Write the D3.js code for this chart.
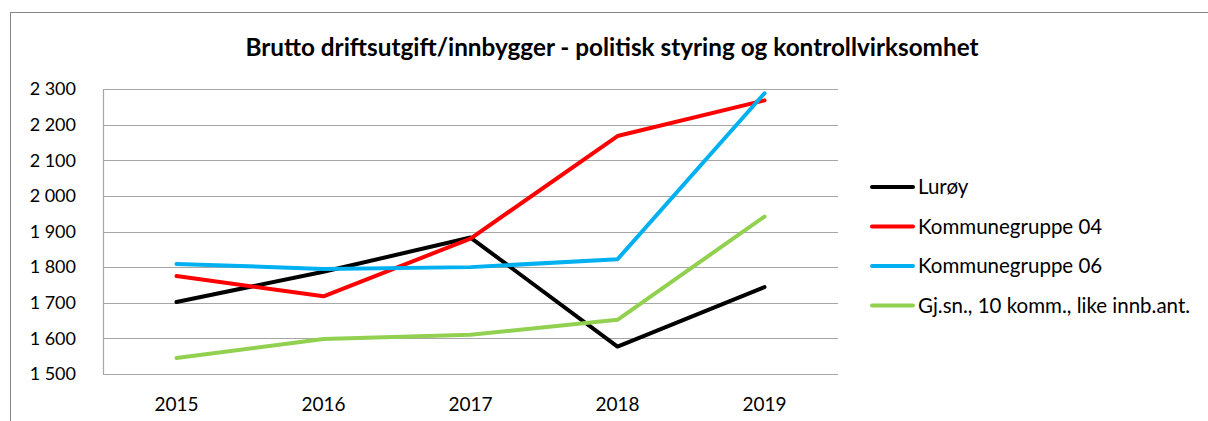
<!DOCTYPE html>
<html>
<head>
<meta charset="utf-8">
<script src="https://cdn.jsdelivr.net/npm/d3@7"></script>
<style>
  body { margin: 0; background: #fff; }
  text { font-family: Lato, "Open Sans", sans-serif; }
</style>
</head>
<body>
<svg id="drawing_region"></svg>
<script>
const years = ['2015', '2016', '2017', '2018', '2019'];
const yTicks = [1500, 1600, 1700, 1800, 1900, 2000, 2100, 2200, 2300];
const seriesNames = ['Lurøy', 'Kommunegruppe 04', 'Kommunegruppe 06', 'Gj.sn., 10 komm., like innb.ant.'];
const seriesColors = ['#000000', '#ff0000', '#00b0f0', '#92d050'];
const luroy = [1702, 1787, 1883, 1577, 1744];
const kg04 = [1775, 1718, 1880, 2168, 2268];
const kg06 = [1809, 1795, 1800, 1822, 2288];
const gjsn = [1545, 1598, 1610, 1652, 1942];

const seriesValues = [luroy, kg04, kg06, gjsn];

const W = 1208, H = 421;
const plot = { left: 103, right: 838, top: 89, bottom: 374 };

const svg = d3.select('#drawing_region')
  .attr('width', W)
  .attr('height', H);

// chart frame
svg.append('rect')
  .attr('x', 10.5).attr('y', 12.5)
  .attr('width', W + 20).attr('height', H + 20)
  .attr('fill', 'none')
  .attr('stroke', '#868686')
  .attr('stroke-width', 1);

const x = d3.scalePoint()
  .domain(years)
  .range([plot.left, plot.right])
  .padding(0.5);

const y = d3.scaleLinear()
  .domain([1500, 2300])
  .range([plot.bottom, plot.top]);

const fmt = v => d3.format(',')(v).replace(',', ' ');

// gridlines
svg.append('g')
  .selectAll('line')
  .data(yTicks)
  .enter()
  .append('line')
  .attr('x1', plot.left)
  .attr('x2', plot.right)
  .attr('y1', d => Math.round(y(d)) + 0.5)
  .attr('y2', d => Math.round(y(d)) + 0.5)
  .attr('stroke', '#a6a6a6')
  .attr('stroke-width', 1.2);

svg.append('line')
  .attr('x1', plot.left + 0.5).attr('x2', plot.left + 0.5)
  .attr('y1', plot.top).attr('y2', plot.bottom)
  .attr('stroke', '#a6a6a6')
  .attr('stroke-width', 1.2);

// y labels
svg.append('g')
  .selectAll('text')
  .data(yTicks)
  .enter()
  .append('text')
  .attr('x', 76)
  .attr('y', d => y(d))
  .attr('dy', '0.35em')
  .attr('text-anchor', 'end')
  .attr('font-size', '18px')
  .attr('fill', '#000')
  .text(d => fmt(d));

// x labels
svg.append('g')
  .selectAll('text')
  .data(years)
  .enter()
  .append('text')
  .attr('x', d => x(d))
  .attr('y', 404)
  .attr('dy', '0.35em')
  .attr('text-anchor', 'middle')
  .attr('font-size', '19px')
  .attr('fill', '#000')
  .text(d => d);

// lines
const line = d3.line()
  .x((d, i) => x(years[i]))
  .y(d => y(d));

svg.append('g')
  .selectAll('path')
  .data(seriesValues)
  .enter()
  .append('path')
  .attr('d', d => line(d))
  .attr('fill', 'none')
  .attr('stroke', (d, i) => seriesColors[i])
  .attr('stroke-width', 4)
  .attr('stroke-linejoin', 'round')
  .attr('stroke-linecap', 'round');

// title
svg.append('text')
  .attr('x', 612)
  .attr('y', 47)
  .attr('dy', '0.35em')
  .attr('text-anchor', 'middle')
  .attr('font-size', '24.3px')
  .attr('font-weight', 700)
  .attr('fill', '#000')
  .text('Brutto driftsutgift/innbygger - politisk styring og kontrollvirksomhet');

// legend
const legend = svg.append('g')
  .selectAll('g')
  .data(seriesNames)
  .enter()
  .append('g')
  .attr('transform', (d, i) => `translate(872, ${187 + i * 39.5})`);

legend.append('line')
  .attr('x1', 0).attr('x2', 41)
  .attr('y1', 0).attr('y2', 0)
  .attr('stroke', (d, i) => seriesColors[i])
  .attr('stroke-width', 4)
  .attr('stroke-linecap', 'round');

legend.append('text')
  .attr('x', 46)
  .attr('y', 0)
  .attr('dy', '0.35em')
  .attr('font-size', '20.5px')
  .attr('fill', '#000')
  .text(d => d);
</script>
</body>
</html>
